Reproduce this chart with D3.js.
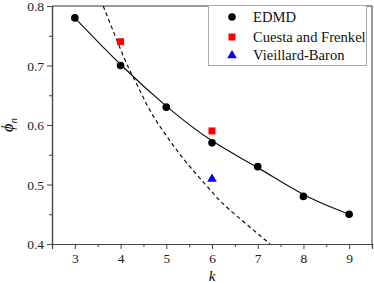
<!DOCTYPE html>
<html>
<head>
<meta charset="utf-8">
<script src="https://cdn.jsdelivr.net/npm/d3@7"></script>
<style>
  body { margin: 0; background: #fff; }
  text { font-family: "Liberation Serif", "Times New Roman", "DejaVu Serif", serif; }
</style>
</head>
<body>
<svg id="chart" width="374" height="283"></svg>
<script>
// data
const kEdmd = [3, 4, 5, 6, 7, 8, 9];
const phiEdmd = [0.78, 0.70, 0.63, 0.57, 0.53, 0.48, 0.45];
const kCuesta = [4, 6];
const phiCuesta = [0.74, 0.59];
const kVB = [6];
const phiVB = [0.51];
// dashed curve (theory)
const kDash = [3.62, 4.1, 4.34, 4.64, 5.02, 5.45, 5.96, 6.35, 7.27];
const phiDash = [0.80, 0.709, 0.671, 0.625, 0.58, 0.536, 0.491, 0.46, 0.40];
const xTicks = [3, 4, 5, 6, 7, 8, 9];
const yTicks = [0.4, 0.5, 0.6, 0.7, 0.8];
const legendLabels = ['EDMD', 'Cuesta and Frenkel', 'Vieillard-Baron'];

const svg = d3.select('#chart');
const pLeft = 52, pRight = 372, pTop = 6, pBottom = 244;
const serif = '"Liberation Serif", "Times New Roman", "DejaVu Serif", serif';

const x = d3.scaleLinear().domain([2.5, 9.5]).range([pLeft, pRight]);
const y = d3.scaleLinear().domain([0.4, 0.8]).range([pBottom, pTop]);

const plot = svg.append('g');
plot.append('clipPath').attr('id', 'clip')
	.append('rect').attr('x', pLeft).attr('y', pTop).attr('width', pRight - pLeft).attr('height', pBottom - pTop);

// frame
svg.append('line').attr('x1', pLeft).attr('x2', pRight).attr('y1', pTop).attr('y2', pTop).attr('stroke', '#333');
svg.append('line').attr('x1', pRight).attr('x2', pRight).attr('y1', pTop).attr('y2', pBottom).attr('stroke', '#333');

// axes
const xAxis = svg.append('g').attr('transform', 'translate(0,' + pBottom + ')')
	.call(d3.axisBottom(x).tickValues(xTicks).tickSize(5).tickFormat(d3.format('d')));
const xMinor = svg.append('g').attr('transform', 'translate(0,' + pBottom + ')')
	.call(d3.axisBottom(x).tickValues(d3.range(2.5, 9.6, 1)).tickSize(3).tickFormat(''));
const yAxis = svg.append('g').attr('transform', 'translate(' + pLeft + ',0)')
	.call(d3.axisLeft(y).tickValues(yTicks).tickSize(5).tickFormat(d3.format('.1f')));
const yMinor = svg.append('g').attr('transform', 'translate(' + pLeft + ',0)')
	.call(d3.axisLeft(y).tickValues([0.45, 0.55, 0.65, 0.75]).tickSize(3).tickFormat(''));

[xAxis, xMinor, yAxis, yMinor].forEach(function(g) {
	g.attr('font-family', serif);
	g.select('.domain').attr('stroke', '#444').attr('stroke-width', 1.2);
	g.selectAll('.tick line').attr('stroke', '#444');
	g.selectAll('text').style('font-family', serif).style('font-size', '13.5px').attr('fill', '#222');
});
xAxis.selectAll('text').attr('dy', '0.82em');
yAxis.selectAll('text').attr('dy', '0.36em').attr('x', -8);

// axis titles
svg.append('text').attr('x', 212).attr('y', 281).attr('text-anchor', 'middle')
	.style('font-size', '15px').style('font-style', 'italic').text('k');
const yl = svg.append('text').attr('transform', 'translate(13,125) rotate(-90)').attr('text-anchor', 'middle')
	.style('font-size', '16px').style('font-style', 'italic');
yl.append('tspan').text('\u03d5');
yl.append('tspan').attr('dy', 4).style('font-size', '11px').text('n');

const lineFunction = d3.line().x(function(d) { return x(d[0]); }).y(function(d) { return y(d[1]); });

// dashed curve
plot.append('path')
	.attr('clip-path', 'url(#clip)')
	.attr('d', lineFunction.curve(d3.curveNatural)(d3.zip(kDash, phiDash)))
	.attr('fill', 'none').attr('stroke', '#111').attr('stroke-width', 1.2).attr('stroke-dasharray', '4,3');

// solid fit through EDMD
plot.append('path')
	.attr('d', lineFunction.curve(d3.curveBasis)(d3.zip(kEdmd, phiEdmd)))
	.attr('fill', 'none').attr('stroke', '#111').attr('stroke-width', 1.2);

// markers
plot.selectAll('circle.edmd').data(d3.zip(kEdmd, phiEdmd)).join('circle')
	.attr('cx', function(d) { return x(d[0]); }).attr('cy', function(d) { return y(d[1]); })
	.attr('r', 3.8).attr('fill', '#000');
plot.selectAll('rect.cf').data(d3.zip(kCuesta, phiCuesta)).join('rect')
	.attr('x', function(d) { return x(d[0]) - 3.5; }).attr('y', function(d) { return y(d[1]) - 3.5; })
	.attr('width', 7).attr('height', 7).attr('fill', '#ff0000');
const tri = d3.symbol().type(d3.symbolTriangle).size(40);
plot.selectAll('path.vb').data(d3.zip(kVB, phiVB)).join('path')
	.attr('transform', function(d) { return 'translate(' + x(d[0]) + ',' + (y(d[1]) + 0.5) + ')'; })
	.attr('d', tri).attr('fill', '#0000ff');

// legend
const lg = svg.append('g');
lg.append('rect').attr('x', 208.5).attr('y', 5.5).attr('width', 158).attr('height', 60)
	.attr('fill', '#fff').attr('stroke', '#aaa');
const rows = [17, 37, 55];
lg.append('circle').attr('cx', 232).attr('cy', rows[0]).attr('r', 3.8).attr('fill', '#000');
lg.append('rect').attr('x', 228.5).attr('y', rows[1] - 3.5).attr('width', 7).attr('height', 7).attr('fill', '#ff0000');
lg.append('path').attr('transform', 'translate(232,' + (rows[2] + 0.5) + ')').attr('d', tri).attr('fill', '#0000ff');
lg.selectAll('text').data(legendLabels).join('text')
	.attr('x', 253).attr('y', function(d, i) { return rows[i]; }).attr('dy', '0.35em')
	.style('font-size', '14.6px').attr('fill', '#111').text(function(d) { return d; });
</script>
</body>
</html>
